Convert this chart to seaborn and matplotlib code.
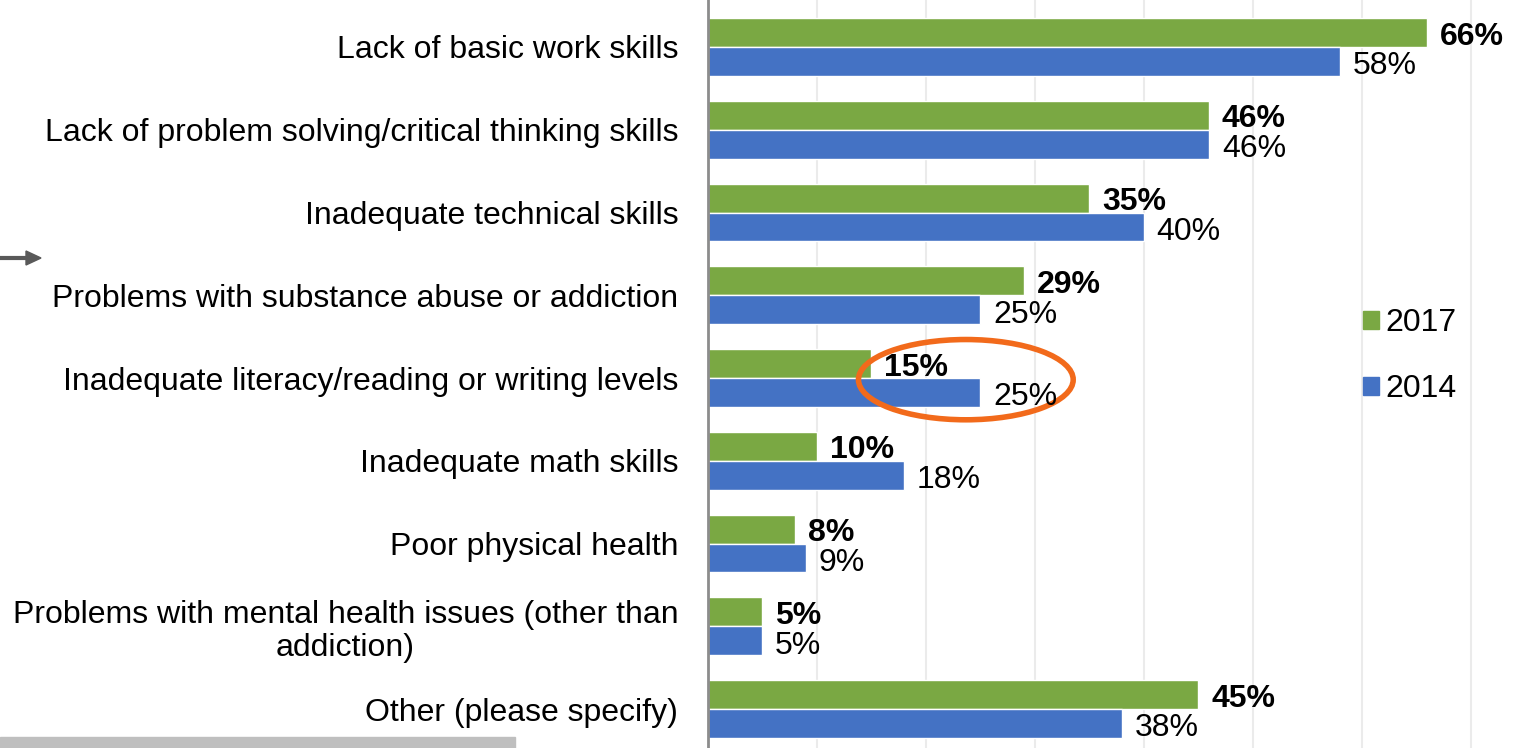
import matplotlib
matplotlib.use("Agg")
import matplotlib.pyplot as plt
from matplotlib.patches import Ellipse, Rectangle
import seaborn as sns
import pandas as pd

categories = [
    "Lack of basic work skills",
    "Lack of problem solving/critical thinking skills",
    "Inadequate technical skills",
    "Problems with substance abuse or addiction",
    "Inadequate literacy/reading or writing levels",
    "Inadequate math skills",
    "Poor physical health",
    "Problems with mental health issues (other than\naddiction)",
    "Other (please specify)",
]
values_2017 = [66, 46, 35, 29, 15, 10, 8, 5, 45]
values_2014 = [58, 46, 40, 25, 25, 18, 9, 5, 38]
years = ["2017", "2014"]
colors = {"2017": "#7AA843", "2014": "#4472C4"}

df = pd.DataFrame({
    "category": categories * 2,
    "year": [years[0]] * len(categories) + [years[1]] * len(categories),
    "value": values_2017 + values_2014,
})

sns.set_theme(style="white")
plt.rcParams["font.family"] = ["Liberation Sans", "DejaVu Sans"]

W, H = 1522, 748
fig = plt.figure(figsize=(W / 100, H / 100), dpi=100)
ax = fig.add_axes([707.5 / W, 0.0, 1 - 707.5 / W, 1.0])

sns.barplot(data=df, x="value", y="category", hue="year", hue_order=years,
            order=categories, palette=colors, width=0.7, gap=0,
            orient="h", ax=ax, legend=False, saturation=1)

ax.set_xlim(0, (W - 707.5) / 10.9)
ax.set_ylim((H - 47) / 82.75, -47 / 82.75)
ax.set_xticks(range(10, 80, 10))
ax.xaxis.grid(True, color="#EBEBEB", linewidth=1.5)
ax.set_axisbelow(True)
ax.tick_params(axis="x", length=0, labelbottom=False)
ax.tick_params(axis="y", length=0, pad=21, labelsize=23, labelcolor="black")
for lbl in ax.get_yticklabels():
    lbl.set_multialignment("center")
    lbl.set_linespacing(1.12)
ax.set_xlabel("")
ax.set_ylabel("")
for side in ("top", "right", "bottom"):
    ax.spines[side].set_visible(False)
ax.spines["left"].set_color("#8C8C8C")
ax.spines["left"].set_linewidth(2)

# value labels beside each bar
for container, year in zip(ax.containers, years):
    weight = "bold" if year == "2017" else "normal"
    dy = 0.05 if year == "2017" else 0.06
    for bar in container:
        v = bar.get_width()
        cy = bar.get_y() + bar.get_height() / 2
        ax.text(v + 1.2, cy + dy, f"{v:.0f}%", ha="left", va="center",
                fontsize=23, fontweight=weight, color="black")

# legend
handles = [Rectangle((0, 0), 1, 1, color=colors[y]) for y in years]
fig.legend(handles, years, loc="center left", bbox_to_anchor=(1334 / W, 1 - 356 / H),
           frameon=False, fontsize=23, handlelength=0.5, handleheight=0.5,
           handletextpad=0.22, labelspacing=1.125, labelcolor="black")

# highlight around the literacy row
ax.add_patch(Ellipse((23.7, 4.02), 19.7, 0.97, fill=False,
                     edgecolor="#F26A1B", linewidth=4, clip_on=False))

# side arrow and bottom strip
fig.add_artist(plt.Line2D([0, 28 / W], [1 - 258 / H] * 2, color="#595959",
                          linewidth=3, transform=fig.transFigure))
fig.patches.append(plt.Polygon([[26 / W, 1 - 251 / H], [41 / W, 1 - 258 / H],
                                [26 / W, 1 - 265 / H]], closed=True,
                               color="#595959", transform=fig.transFigure))
fig.patches.append(Rectangle((0, 0), 515 / W, 11 / H, color="#BFBFBF",
                             transform=fig.transFigure))

fig.savefig("out.png", dpi=100)
